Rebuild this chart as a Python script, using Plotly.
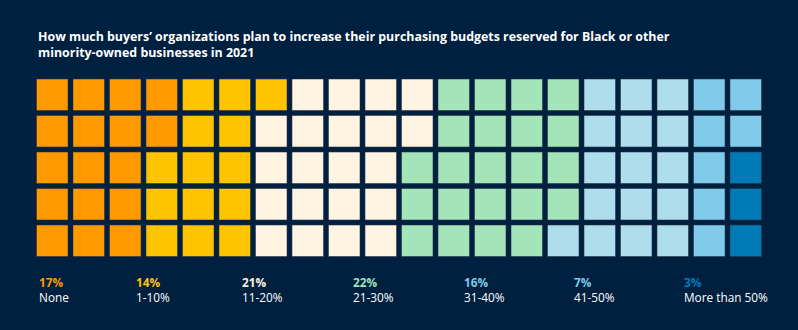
import plotly.graph_objects as go

# Survey shares (percent of buyers), one waffle cell per percent
categories = ["None", "1-10%", "11-20%", "21-30%", "31-40%", "41-50%", "More than 50%"]
shares = [17, 14, 21, 22, 16, 7, 3]
cell_colors = ["#FF9900", "#FFC400", "#FFF3E2", "#A3E4B9", "#AEDDEC", "#80CBEA", "#007BB7"]
label_colors = ["#FF9900", "#FFC400", "#FFF3E2", "#A3E4B9", "#7FCBEA", "#7FCBEA", "#007BB7"]

ROWS, COLS = 5, 20
BG = "#00203F"
W, H = 798, 330

# pixel layout of the grid
x0, y0, pitch, side = 36.5, 79.0, 36.5, 31.5
label_px = [37, 134, 240, 351, 462, 572, 682]

fig = go.Figure()

# fill the grid column by column, top to bottom
idx = 0
for cat, n, col in zip(categories, shares, cell_colors):
    xs, ys = [], []
    for _ in range(n):
        xs.append(idx // ROWS)
        ys.append(idx % ROWS)
        idx += 1
    fig.add_trace(go.Scatter(
        x=xs, y=ys, mode="markers", name=cat,
        marker=dict(symbol="square", size=side, color=col,
                    line=dict(color="rgba(40,50,70,0.55)", width=1)),
        hoverinfo="skip", showlegend=False,
    ))

# axis ranges so that one unit equals one cell pitch
cx0 = x0 + side / 2
cy0 = y0 + side / 2
xr = [(0 - cx0) / pitch, (W - cx0) / pitch]
yr = [(H - cy0) / pitch, (0 - cy0) / pitch]

annotations = [
    dict(text="<b>How much buyers\u2019 organizations plan to increase their purchasing budgets reserved for Black or other<br>minority-owned businesses in 2021</b>",
         x=36 / W, y=1 - 44.5 / H, xref="paper", yref="paper", xanchor="left", yanchor="middle",
         align="left", showarrow=False,
         font=dict(family="Open Sans", size=12.4, color="white"))
]
for cat, n, lc, px in zip(categories, shares, label_colors, label_px):
    annotations.append(dict(
        text=f"<span style='color:{lc}'><b>{n}%</b></span><br>{cat}",
        x=px / W, y=1 - 289 / H, xref="paper", yref="paper",
        xanchor="left", yanchor="middle", align="left", showarrow=False,
        font=dict(family="Open Sans", size=11.8, color="white")))

fig.update_layout(
    width=W, height=H,
    margin=dict(l=0, r=0, t=0, b=0),
    paper_bgcolor=BG, plot_bgcolor=BG,
    xaxis=dict(range=xr, visible=False, fixedrange=True),
    yaxis=dict(range=yr, visible=False, fixedrange=True),
    annotations=annotations,
)

fig.write_html("out.html", config={"displayModeBar": False})
